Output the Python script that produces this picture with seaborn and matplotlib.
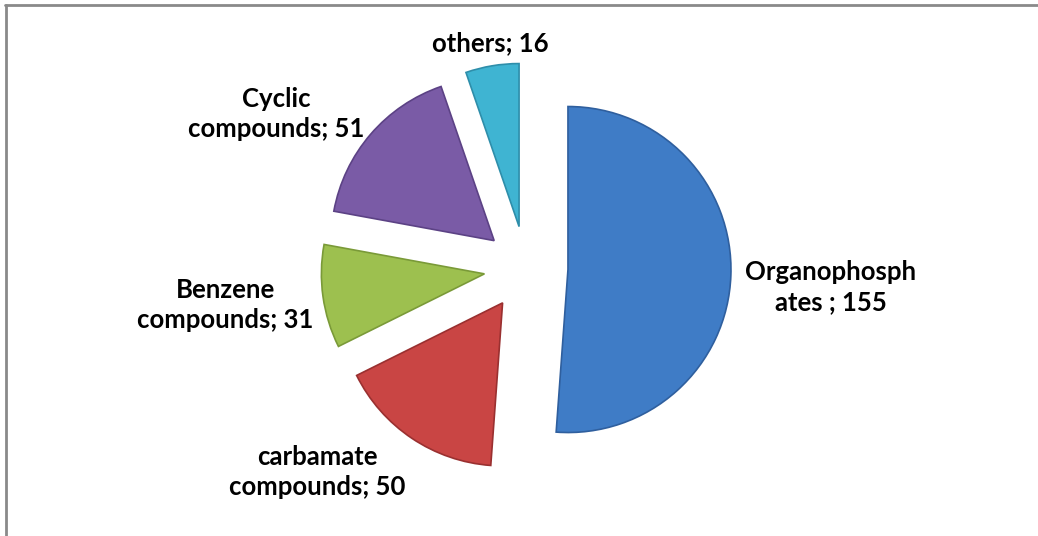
import matplotlib
matplotlib.use("Agg")
import matplotlib.pyplot as plt
import seaborn as sns
from matplotlib.lines import Line2D

categories = ["Organophosphates", "carbamate compounds", "Benzene compounds",
              "Cyclic compounds", "others"]
values = [155, 50, 31, 51, 16]
labels = ["Organophosph\nates ; 155", "carbamate\ncompounds; 50",
          "Benzene\ncompounds; 31", "Cyclic\ncompounds; 51", "others; 16"]
colors = ["#3f7cc6", "#c94544", "#9dc04f", "#7a5ba6", "#3fb4d2"]
edge_colors = ["#2f5f9e", "#9a3030", "#7a9a38", "#5c4285", "#2e8eaa"]

sns.set_theme(style="white")
plt.rcParams['font.family'] = ['Lato', 'DejaVu Sans']

W, H = 1038, 536
R = 163.0
cx, cy = 526.0, 268.0
fig = plt.figure(figsize=(W / 100, H / 100), dpi=100)
ax = fig.add_axes([0, 0, 1, 1])

wedges, _ = ax.pie(values, startangle=90, counterclock=False,
                   explode=[42 / R] * len(values), radius=1, center=(0, 0),
                   colors=colors, wedgeprops=dict(linewidth=1.2))
for w, ec in zip(wedges, edge_colors):
    w.set_edgecolor(ec)

ax.set_xlim(-cx / R, (W - cx) / R)
ax.set_ylim(-(H - cy) / R, cy / R)
ax.set_aspect("equal")
ax.axis("off")

# label positions in pixel coords (x, y from top)
label_pos = [(831, 287), (317, 472), (225, 305), (276, 114), (490, 43)]
for lab, (px, py) in zip(labels, label_pos):
    ax.text((px - cx) / R, (cy - py) / R, lab, ha="center", va="center",
            fontsize=18.5, fontweight="bold", color="#000000", linespacing=1.3)

# partial frame (left and top)
fig.add_artist(Line2D([6 / W, 6 / W], [0, 1 - 5 / H], transform=fig.transFigure,
                      color="#8a8a8a", lw=2))
fig.add_artist(Line2D([5 / W, 1], [1 - 5 / H, 1 - 5 / H], transform=fig.transFigure,
                      color="#8a8a8a", lw=2))

fig.savefig("out.png", dpi=100)
